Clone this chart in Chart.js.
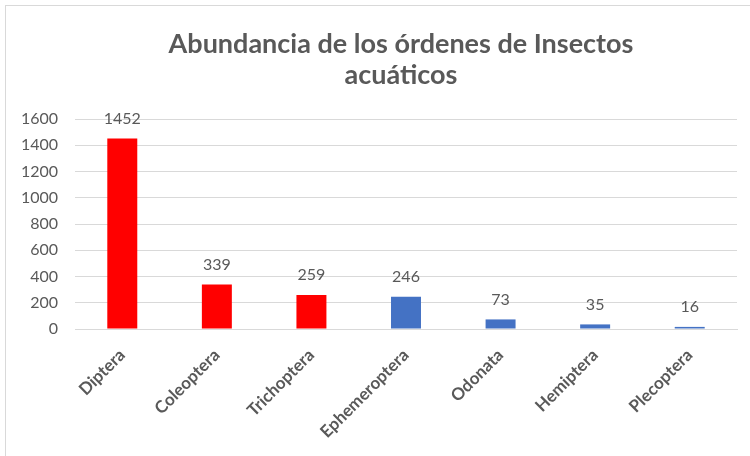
<!DOCTYPE html>
<html>
<head>
<meta charset="utf-8">
<script src="https://cdn.jsdelivr.net/npm/chart.js@4"></script>
<style>
    html, body { margin: 0; padding: 0; background: #fff; overflow: hidden; }
    #frame {
        position: absolute; left: 5px; top: 5px; width: 800px; height: 460px;
        border: 1px solid #d9d9d9; box-sizing: border-box;
    }
    #wrap { position: absolute; left: 0; top: 0; width: 802px; height: 456px; }
</style>
</head>
<body>
<div id="frame"></div>
<div id="wrap"><canvas id="insectos" width="802" height="456"></canvas></div>
<script>
// datos
var ordenes = ["Diptera", "Coleoptera", "Trichoptera", "Ephemeroptera", "Odonata", "Hemiptera", "Plecoptera"];
var abundancia = [1452, 339, 259, 246, 73, 35, 16];
var yTicks = [0, 200, 400, 600, 800, 1000, 1200, 1400, 1600];

var gris = "#595959";
var fuente = "Lato, 'Open Sans', sans-serif";

// etiquetas de valor encima de cada barra
var valueLabels = {
    id: "valueLabels",
    afterDatasetsDraw: function(chart) {
        var ctx = chart.ctx;
        var meta = chart.getDatasetMeta(0);
        ctx.save();
        ctx.font = "16px " + fuente;
        ctx.fillStyle = gris;
        ctx.textAlign = "center";
        ctx.textBaseline = "bottom";
        meta.data.forEach(function(bar, i) {
            ctx.fillText(String(abundancia[i]), bar.x, bar.y - 12);
        });
        ctx.restore();
    }
};

// el titulo va centrado en todo el lienzo, no solo en el area con padding
var centerTitle = {
    id: "centerTitle",
    afterLayout: function(chart) {
        chart.titleBlock.left = 0;
        chart.titleBlock.right = chart.width;
    }
};

var ctx = document.getElementById("insectos").getContext("2d");
new Chart(ctx, {
    type: "bar",
    data: {
        labels: ordenes,
        datasets: [{
            data: abundancia,
            backgroundColor: function(c) { return c.dataIndex < 3 ? "#FF0000" : "#4472C4"; },
            borderWidth: 0,
            categoryPercentage: 1,
            barPercentage: 0.317
        }]
    },
    options: {
        responsive: false,
        animation: false,
        layout: { padding: { left: 8, right: 65, top: 0, bottom: 0 } },
        plugins: {
            legend: { display: false },
            tooltip: { enabled: false },
            title: {
                display: true,
                text: ["Abundancia de los órdenes de Insectos", "acuáticos"],
                color: gris,
                font: { family: fuente, size: 27, weight: "bold", lineHeight: 1.15 },
                padding: { top: 29, bottom: 28 }
            }
        },
        scales: {
            x: {
                grid: { display: false },
                border: { color: "#d9d9d9" },
                ticks: {
                    color: gris,
                    font: { family: fuente, size: 17, weight: "bold" },
                    minRotation: 45,
                    maxRotation: 45,
                    padding: 8
                },
                afterFit: function(scale) { scale.height = 127; }
            },
            y: {
                min: 0,
                max: 1600,
                afterBuildTicks: function(scale) {
                    scale.ticks = yTicks.map(function(v) { return { value: v }; });
                },
                grid: { color: "#d9d9d9", drawTicks: false },
                border: { display: false },
                ticks: {
                    color: gris,
                    font: { family: fuente, size: 16 },
                    padding: 17,
                    callback: function(v) { return String(v); }
                },
                afterFit: function(scale) { scale.width = 67; }
            }
        }
    },
    plugins: [valueLabels, centerTitle]
});
</script>
</body>
</html>
